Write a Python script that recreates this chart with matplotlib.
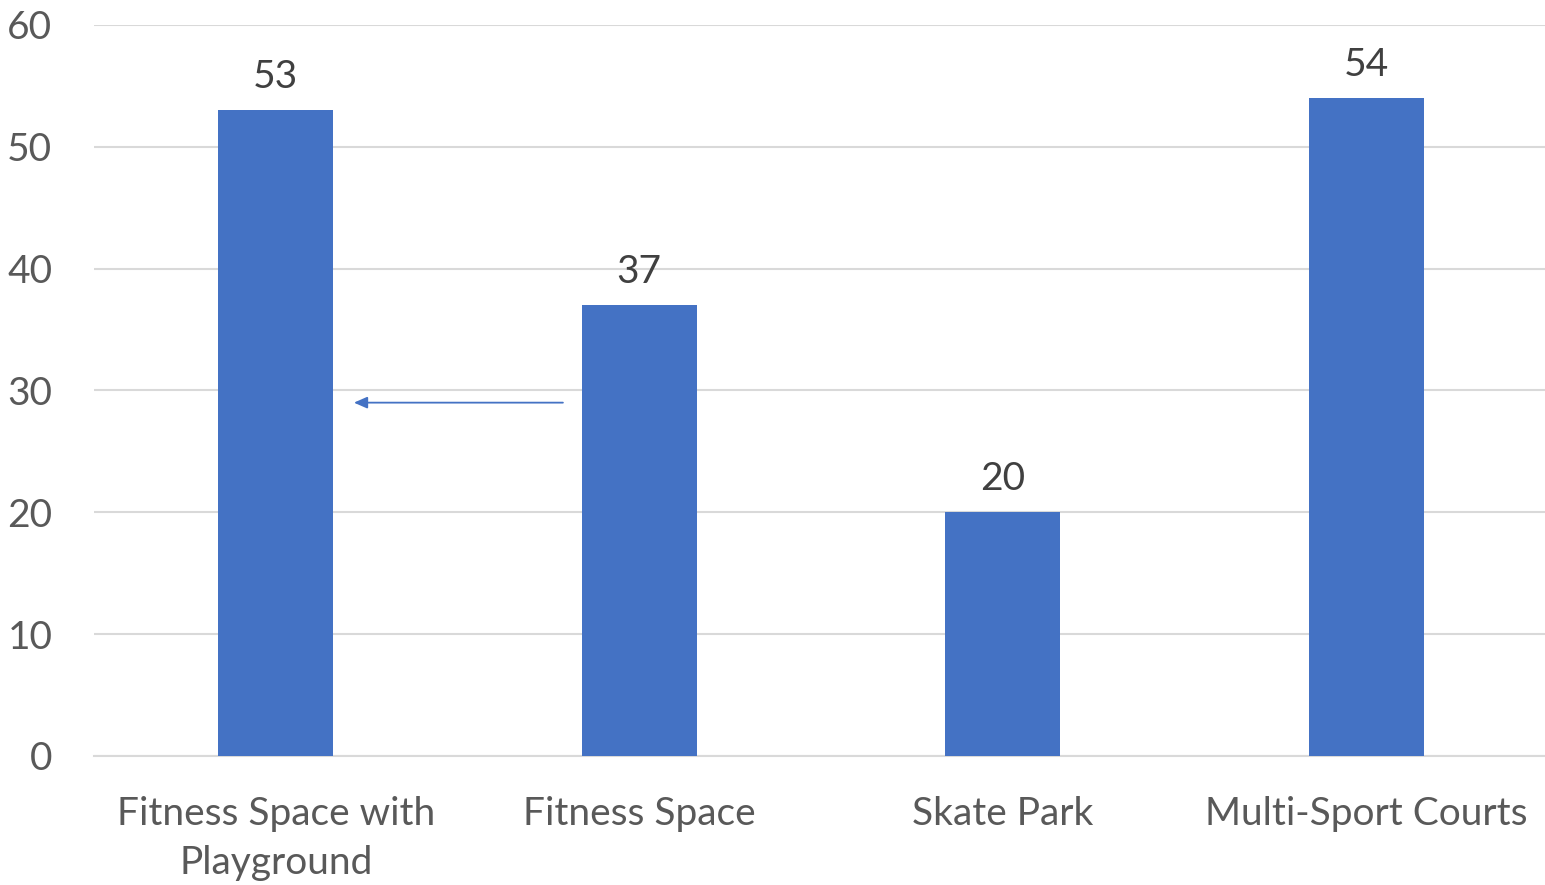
import matplotlib.pyplot as plt

categories = ["Fitness Space with\nPlayground", "Fitness Space", "Skate Park", "Multi-Sport Courts"]
values = [53, 37, 20, 54]
yticks = [0, 10, 20, 30, 40, 50, 60]

plt.rcParams['font.family'] = ['Lato', 'DejaVu Sans']

fig = plt.figure(figsize=(15.45, 8.85), dpi=100)
ax = fig.add_axes([94 / 1545, 0.1458, 1454 / 1545, 0.826])

x = range(len(categories))
ax.bar(x, values, width=0.315, color="#4472C4", zorder=3)
for i, v in zip(x, values):
    ax.annotate(str(v), (i, v), xytext=(0, 11), textcoords="offset points",
                ha="center", va="bottom", fontsize=28, color="#404040")

ax.set_xlim(-0.5, len(categories) - 0.5)
ax.set_ylim(0, 60)
ax.set_yticks(yticks)
ax.set_xticks(list(x))
ax.set_xticklabels(categories, fontsize=28, color="#595959", linespacing=1.45)
ax.tick_params(axis="y", labelsize=28, labelcolor="#595959", length=0, pad=30)
ax.tick_params(axis="x", length=0, pad=29)

ax.grid(axis="y", color="#d9d9d9", linewidth=1.5, zorder=0)
for s in ["top", "right", "left"]:
    ax.spines[s].set_visible(False)
ax.spines["bottom"].set_color("#d9d9d9")
ax.spines["bottom"].set_linewidth(1.5)

# arrow pointing from Fitness Space back to Fitness Space with Playground
ax.annotate("", xy=(0.215, 29), xytext=(0.79, 29),
            arrowprops=dict(arrowstyle="-|>,head_length=0.8,head_width=0.35",
                            color="#4472C4", lw=1.3, shrinkA=0, shrinkB=0))

fig.savefig("out.png", dpi=100)
